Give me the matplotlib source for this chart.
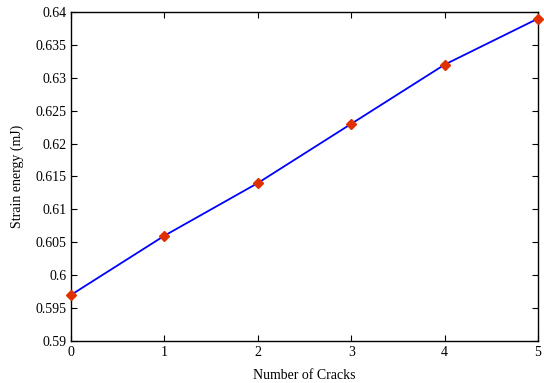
import matplotlib
matplotlib.use("Agg")
import matplotlib.pyplot as plt

cracks = [0, 1, 2, 3, 4, 5]
energy = [0.597, 0.606, 0.614, 0.623, 0.632, 0.639]
yticks = [0.59, 0.595, 0.6, 0.605, 0.61, 0.615, 0.62, 0.625, 0.63, 0.635, 0.64]
ylabels = ["0.59", "0.595", "0.6", "0.605", "0.61", "0.615", "0.62", "0.625", "0.63", "0.635", "0.64"]

plt.rcParams['font.family'] = ['Liberation Serif', 'DejaVu Serif']
fig = plt.figure(figsize=(5.44, 3.83), dpi=100)
ax = fig.add_axes([0.1305, 0.1097, 0.8585, 0.859])
ax.plot(cracks, energy, color='#0000FF', linewidth=1.3, marker='D', markersize=5.5,
        markerfacecolor='#E03000', markeredgecolor='#E03000', clip_on=False, zorder=3)
ax.set_xlim(0, 5)
ax.set_ylim(0.59, 0.64)
ax.set_xticks(cracks)
ax.set_yticks(yticks)
ax.set_yticklabels(ylabels)
ax.tick_params(direction='in', length=4, labelsize=10, top=True, right=True, width=0.8)
for s in ax.spines.values():
    s.set_linewidth(1.0)
ax.set_xlabel('Number of Cracks', fontsize=10, labelpad=7)
ax.set_ylabel('Strain energy (mJ)', fontsize=10, labelpad=8)
fig.savefig('out.png', dpi=100)
